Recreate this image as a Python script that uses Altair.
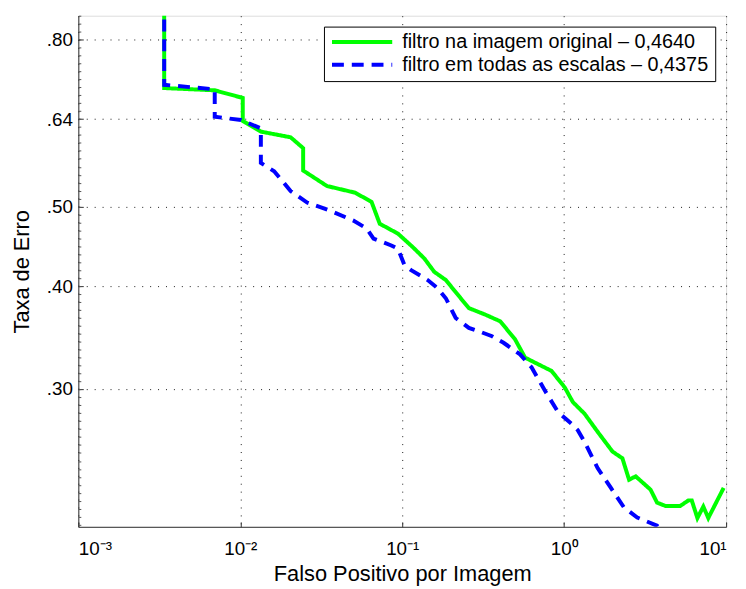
import altair as alt
import pandas as pd

series_names = ["filtro na imagem original – 0,4640", "filtro em todas as escalas – 0,4375"]
series_colors = ["#00FF00", "#0000FF"]

green_x = [0.00339, 0.00339, 0.006955, 0.01036, 0.01036, 0.01340, 0.02045, 0.02445, 0.02445, 0.03429,
           0.05108, 0.06462, 0.07264, 0.09412, 0.1162, 0.1369, 0.1576, 0.1858, 0.2296, 0.2580,
           0.3265, 0.4031, 0.4980, 0.5732, 0.6914, 0.8349, 1.007, 1.132, 1.335, 1.609,
           1.989, 2.289, 2.516, 2.765, 3.415, 3.747, 4.219, 5.211, 5.856, 6.135,
           6.646, 7.233, 7.762, 9.654]
green_y = [1.0, 0.6982, 0.6938, 0.6791, 0.6366, 0.6179, 0.6081, 0.5899, 0.5540, 0.5304,
           0.5206, 0.5074, 0.4771, 0.4640, 0.4468, 0.4328, 0.4169, 0.4074, 0.3871, 0.3765,
           0.3696, 0.3628, 0.3448, 0.3277, 0.3216, 0.3157, 0.3015, 0.2892, 0.2800, 0.2661,
           0.2517, 0.2470, 0.2326, 0.2348, 0.2262, 0.2181, 0.2161, 0.2161, 0.2195, 0.2195,
           0.2089, 0.2157, 0.2089, 0.2273]

blue_x = [0.00339, 0.00339, 0.006955, 0.006955, 0.01011, 0.01340, 0.01340, 0.01619, 0.02045, 0.02587,
          0.03592, 0.04994, 0.06022, 0.06647, 0.08564, 0.09412, 0.1033, 0.1135, 0.1436, 0.1653,
          0.1858, 0.2139, 0.2580, 0.2971, 0.3586, 0.4223, 0.5343, 0.6300, 0.7600, 0.9165,
          1.107, 1.214, 1.335, 1.609, 1.944, 2.344, 2.828, 3.747, 4.004]
blue_y = [1.0, 0.7046, 0.6957, 0.6442, 0.6383, 0.6236, 0.5658, 0.5529, 0.5230, 0.5064,
          0.4948, 0.4813, 0.4709, 0.4576, 0.4489, 0.4447, 0.4248, 0.4188, 0.4074, 0.3981,
          0.3871, 0.3662, 0.3562, 0.3528, 0.3479, 0.3416, 0.3307, 0.3187, 0.2987, 0.2813,
          0.2723, 0.2673, 0.2588, 0.2403, 0.2273, 0.2151, 0.2092, 0.2044, 0.2012]

x_ticks = [0.001, 0.01, 0.1, 1, 10]
y_ticks = [0.30, 0.40, 0.50, 0.64, 0.80]
y_minor = [0.8 ** (n / 10) for n in range(-6, 72)]
x_domain = [0.001, 10]
y_domain = [0.2038, 0.8554]

rows = []
for name, xs, ys in [(series_names[0], green_x, green_y), (series_names[1], blue_x, blue_y)]:
    for i, (xv, yv) in enumerate(zip(xs, ys)):
        rows.append({"serie": name, "fp": xv, "err": yv, "idx": i})
df = pd.DataFrame(rows)

W, H = 654, 516
FONT = "Liberation Sans"

x_label_expr = ("datum.value < 0.005 ? '10⁻³' : datum.value < 0.05 ? '10⁻²' : "
                "datum.value < 0.5 ? '10⁻¹' : datum.value < 5 ? '10⁰' : '10¹'")

xs = alt.Scale(type="log", domain=x_domain, nice=False)
ys = alt.Scale(type="log", domain=y_domain, nice=False)

base = alt.Chart(df)

lines = base.mark_line(strokeWidth=4, clip=True).encode(
    x=alt.X("fp:Q", scale=xs, axis=alt.Axis(
        values=x_ticks, labelExpr=x_label_expr, ticks=False, labelPadding=13,
        labelFontSize=19, labelFont=FONT, labelColor="black",
        grid=True, gridDash=[1, 7], gridColor="#000", gridOpacity=0.9,
        domainColor="#333", title="Falso Positivo por Imagem", titleFontSize=22,
        titleFont=FONT, titleFontWeight="normal", titleColor="black", titlePadding=5)),
    y=alt.Y("err:Q", scale=ys, axis=alt.Axis(
        values=y_ticks, labelExpr="replace(format(datum.value, '.2f'), '0.', '.')",
        ticks=False, labelPadding=6, labelFontSize=19, labelFont=FONT, labelColor="black",
        grid=True, gridDash=[1, 7], gridColor="#000", gridOpacity=0.9,
        domainColor="#333", title="Taxa de Erro", titleFontSize=22, titleFont=FONT,
        titleFontWeight="normal", titleColor="black", titlePadding=13)),
    color=alt.Color("serie:N", scale=alt.Scale(domain=series_names, range=series_colors),
                    legend=alt.Legend(orient="none", legendX=248, legendY=11, title=None,
                                      fillColor="white", strokeColor="black", padding=6,
                                      symbolType="stroke", symbolSize=3700, symbolStrokeWidth=4,
                                      clipHeight=19, labelLimit=500,
                                      labelFontSize=20, labelFont=FONT, labelColor="black",
                                      labelOffset=8, rowPadding=2, cornerRadius=0)),
    strokeDash=alt.StrokeDash("serie:N", scale=alt.Scale(domain=series_names, range=[[1, 0], [12, 8]]),
                              legend=None),
    order="idx:Q",
)

major_ticks = base.mark_line(opacity=0).encode(
    x=alt.X("fp:Q", scale=xs, axis=alt.Axis(
        orient="top", offset=-H, values=x_ticks, labels=False, domain=False, grid=False,
        ticks=True, tickSize=5, tickColor="#333", title=None)),
    y=alt.Y("err:Q", scale=ys, axis=alt.Axis(
        orient="right", offset=-W, values=y_ticks, labels=False, domain=False, grid=False,
        ticks=True, tickSize=5, tickColor="#333", title=None)),
)

minor_ticks = base.mark_line(opacity=0).encode(
    x=alt.X("fp:Q", scale=xs, axis=None),
    y=alt.Y("err:Q", scale=ys, axis=alt.Axis(
        orient="right", offset=-W, values=y_minor, labels=False, domain=False, grid=False,
        ticks=True, tickSize=2.5, tickColor="#555", title=None)),
)

chart = alt.layer(lines, major_ticks, minor_ticks).resolve_axis(
    x="independent", y="independent"
).properties(
    width=W, height=H,
    autosize=alt.AutoSizeParams(type="none"),
    padding={"left": 71, "top": 5, "right": 12, "bottom": 60},
).configure_view(stroke=None).configure(background="white")

chart.save("out.html", embed_options={"renderer": "svg", "actions": False})
